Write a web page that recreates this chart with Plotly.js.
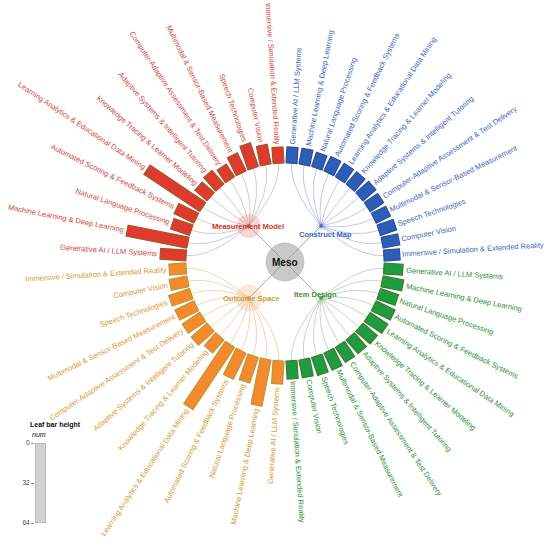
<!DOCTYPE html>
<html><head><meta charset="utf-8">
<script src="https://cdn.plot.ly/plotly-3.0.1.min.js"></script>
<style>html,body{margin:0;padding:0;background:#fff}#chart{width:550px;height:540px}</style>
</head><body><div id="chart"></div>
<script>
// ---------- data ----------
const categories = [
  'Generative AI / LLM Systems',
  'Machine Learning & Deep Learning',
  'Natural Language Processing',
  'Automated Scoring & Feedback Systems',
  'Learning Analytics & Educational Data Mining',
  'Knowledge Tracing & Learner Modeling',
  'Adaptive Systems & Intelligent Tutoring',
  'Computer-Adaptive Assessment & Test Delivery',
  'Multimodal & Sensor-Based Measurement',
  'Speech Technologies',
  'Computer Vision',
  'Immersive / Simulation & Extended Reality'
];
const groupNames = ['Measurement Model', 'Construct Map', 'Item Design', 'Outcome Space'];
const measurementModel = [14, 50, 8, 10, 55, 4, 6, 3, 8, 13, 8, 4];
const constructMap     = [4, 4, 3, 4, 4, 4, 5, 4, 4, 5, 5, 4];
const itemDesign       = [7, 9, 7, 9, 9, 7, 6, 6, 7, 7, 6, 6];
const outcomeSpace     = [11, 35, 15, 17, 63, 5, 9, 9, 9, 10, 6, 5];
const rootName = 'Meso';
const legendTicks = [0, 32, 64];

// ---------- styles ----------
const groupValues = [measurementModel, constructMap, itemDesign, outcomeSpace];
const barColors  = ['#e0392e', '#2c5db9', '#1f9c42', '#f38a2c'];
const barLines   = ['#9c5a2c', '#2a4f9a', '#3f7a2e', '#bf9638'];
const textColors = ['#cc4a3c', '#3c68bb', '#2f9036', '#d49a36'];
const nodeTextColors = ['#d0382b', '#3b68bd', '#4b8a3a', '#c9a23a'];
const linkColors = ['rgba(175,150,150,0.65)', 'rgba(110,130,200,0.55)', 'rgba(150,175,135,0.65)', 'rgba(215,185,125,0.7)'];
const nodeFills  = ['rgba(238,110,110,0.40)', 'rgba(120,150,220,0.35)', 'rgba(120,200,130,0.30)', 'rgba(245,170,110,0.38)'];
const nodeSizes  = [24, 9, 12, 27];
const nodeLabelOffsets = [[-1, -1], [4, -9], [-6, 4], [3, 0]];
const FONT = '"Liberation Sans", Arial, sans-serif';
const R0 = 99, GAP = 3, STEP = 7.5, BAR_W = 11, MIN_LEN = 12, K = 1.0, NODE_R = 51;

const rad = d => d * Math.PI / 180;
const pol = (deg, r) => [r * Math.cos(rad(deg)), r * Math.sin(rad(deg))];
const ctx = document.createElement('canvas').getContext('2d');
function textW(t, size, bold) {
  ctx.font = (bold ? 'bold ' : '') + size + 'px "Liberation Sans", Arial, sans-serif';
  return ctx.measureText(t).width;
}
function norm(a) { while (a > 180) a -= 360; while (a <= -180) a += 360; return a; }

const traces = [];
const annotations = [];
const LABEL_SIZE = 7.5;

// links
groupValues.forEach((vals, gi) => {
  const nodeAng = 135 - 90 * gi;
  const [nx, ny] = pol(nodeAng, NODE_R);
  const xs = [], ys = [];
  vals.forEach((v, i) => {
    const ang = 180 - STEP / 2 - STEP * (gi * 12 + i);
    const [tx, ty] = pol(ang, R0);
    const [cx, cy] = pol(ang, NODE_R + (R0 - NODE_R) * 0.45);
    for (let s = 0; s <= 24; s++) {
      const t = s / 24, a = (1 - t) * (1 - t), b = 2 * t * (1 - t), c = t * t;
      xs.push(a * nx + b * cx + c * tx);
      ys.push(a * ny + b * cy + c * ty);
    }
    xs.push(null); ys.push(null);
  });
  traces.push({type: 'scatter', mode: 'lines', x: xs, y: ys, hoverinfo: 'skip',
    line: {color: linkColors[gi], width: 0.8}, showlegend: false});
});

// bars + labels
groupValues.forEach((vals, gi) => {
  vals.forEach((v, i) => {
    const ang = 180 - STEP / 2 - STEP * (gi * 12 + i);
    const len = MIN_LEN + K * v;
    const ux = Math.cos(rad(ang)), uy = Math.sin(rad(ang));
    const px = -uy * BAR_W / 2, py = ux * BAR_W / 2;
    const r1 = R0 + len;
    traces.push({type: 'scatter', mode: 'lines', fill: 'toself', hoverinfo: 'skip', showlegend: false,
      x: [R0 * ux + px, r1 * ux + px, r1 * ux - px, R0 * ux - px, R0 * ux + px],
      y: [R0 * uy + py, r1 * uy + py, r1 * uy - py, R0 * uy - py, R0 * uy + py],
      fillcolor: barColors[gi], line: {color: barLines[gi], width: 1.2}});
    const w = textW(categories[i], LABEL_SIZE, false);
    const [lx, ly] = pol(ang, r1 + GAP + w / 2);
    const ta = Math.cos(rad(ang)) >= 0 ? norm(-ang) : norm(180 - ang);
    annotations.push({x: lx, y: ly, xref: 'x', yref: 'y', text: categories[i], showarrow: false,
      textangle: ta, xanchor: 'center', yanchor: 'middle', borderpad: 0,
      font: {family: FONT, size: LABEL_SIZE, color: textColors[gi]}});
  });
});

// root node and spokes
traces.push({type: 'scatter', mode: 'markers', x: [0], y: [0], hoverinfo: 'skip', showlegend: false,
  marker: {size: 38, color: '#c9c9c9', line: {color: '#b0b0b0', width: 0.6}}});
{
  const xs = [], ys = [];
  groupNames.forEach((g, gi) => {
    const [nx, ny] = pol(135 - 90 * gi, NODE_R);
    xs.push(0, nx, null); ys.push(0, ny, null);
  });
  traces.push({type: 'scatter', mode: 'lines', x: xs, y: ys, hoverinfo: 'skip', showlegend: false,
    line: {color: 'rgba(140,140,140,0.7)', width: 1}});
}
// group nodes
groupNames.forEach((g, gi) => {
  const [nx, ny] = pol(135 - 90 * gi, NODE_R);
  traces.push({type: 'scatter', mode: 'markers', x: [nx, nx], y: [ny, ny], hoverinfo: 'skip', showlegend: false,
    marker: {size: [nodeSizes[gi], 4], color: [nodeFills[gi], barColors[gi]], line: {width: 0}}});
  annotations.push({x: nx + nodeLabelOffsets[gi][0], y: ny + nodeLabelOffsets[gi][1], xref: 'x', yref: 'y',
    text: '<b>' + g + '</b>', showarrow: false, xanchor: 'center', yanchor: 'middle',
    font: {family: FONT, size: 7.5, color: nodeTextColors[gi]}});
});
annotations.push({x: 0, y: 0, xref: 'x', yref: 'y', text: '<b>' + rootName + '</b>', showarrow: false,
  xanchor: 'center', yanchor: 'middle', font: {family: FONT, size: 10, color: '#111'}});

// legend (size scale)
traces.push({type: 'bar', x: [0], y: [legendTicks[legendTicks.length - 1]], base: 0, width: 1,
  xaxis: 'x2', yaxis: 'y2', hoverinfo: 'skip', showlegend: false,
  marker: {color: '#d3d3d3', line: {color: '#9a9a9a', width: 0.8}}});
annotations.push({x: 28 / 550, y: 1 - 425 / 540, xref: 'paper', yref: 'paper', text: '<b>Leaf bar height</b>',
  showarrow: false, xanchor: 'left', yanchor: 'middle', font: {family: FONT, size: 7, color: '#111'}});
annotations.push({x: 30 / 550, y: 1 - 434 / 540, xref: 'paper', yref: 'paper', text: '<i>num</i>',
  showarrow: false, xanchor: 'left', yanchor: 'middle', font: {family: FONT, size: 7, color: '#111'}});

const layout = {
  width: 550, height: 540, margin: {l: 0, r: 0, t: 0, b: 0, pad: 0},
  paper_bgcolor: '#fff', plot_bgcolor: 'rgba(0,0,0,0)', showlegend: false,
  xaxis: {range: [-285, 265], visible: false, fixedrange: true, domain: [0, 1]},
  yaxis: {range: [-278, 262], visible: false, fixedrange: true, domain: [0, 1]},
  xaxis2: {range: [-0.5, 0.5], visible: false, domain: [35 / 550, 46 / 550], anchor: 'y2', fixedrange: true},
  yaxis2: {range: [legendTicks[legendTicks.length - 1], 0], domain: [(540 - 523) / 540, (540 - 443) / 540],
    anchor: 'x2', tickvals: legendTicks, ticktext: legendTicks.map(String), ticks: 'outside', ticklen: 3,
    tickcolor: '#888', showgrid: false, zeroline: false, showline: false, fixedrange: true,
    tickfont: {family: FONT, size: 6.5, color: '#444'}},
  annotations: annotations
};
Plotly.newPlot('chart', traces, layout, {staticPlot: true, displayModeBar: false});
</script>
</body></html>
